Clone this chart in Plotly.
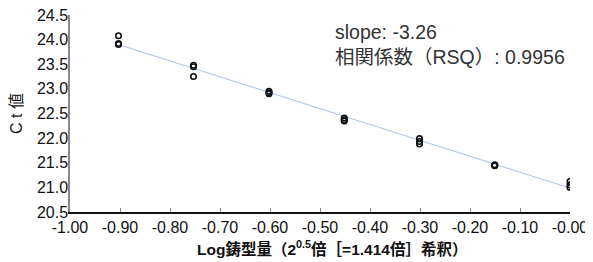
import numpy as np
import plotly.graph_objects as go

# Data
log_template = [-0.903, -0.903, -0.903,
                -0.753, -0.753, -0.753,
                -0.602, -0.602, -0.602,
                -0.4515, -0.4515, -0.4515,
                -0.301, -0.301, -0.301,
                -0.1505, -0.1505, -0.1505,
                0.0, 0.0, 0.0]
ct_values = [24.08, 23.92, 23.90,
             23.48, 23.45, 23.25,
             22.95, 22.92, 22.90,
             22.41, 22.37, 22.35,
             21.99, 21.93, 21.88,
             21.46, 21.45, 21.44,
             21.12, 21.05, 21.00]
x_tick_vals = [-1.0, -0.9, -0.8, -0.7, -0.6, -0.5, -0.4, -0.3, -0.2, -0.1, 0.0]
x_tick_text = ["-1.00", "-0.90", "-0.80", "-0.70", "-0.60", "-0.50", "-0.40",
               "-0.30", "-0.20", "-0.10", "-0.00"]
y_tick_vals = [20.5, 21.0, 21.5, 22.0, 22.5, 23.0, 23.5, 24.0, 24.5]
slope_text = "slope: -3.26"
rsq_text = "相関係数（RSQ）: 0.9956"
x_title = "<b>Log鋳型量（2<sup>0.5</sup>倍［=1.414倍］希釈）</b>"
y_title = "C t 値"

x = np.array(log_template)
y = np.array(ct_values)
m, b = np.polyfit(x, y, 1)
fit_x = [min(log_template), max(log_template)]
fit_y = [m * v + b for v in fit_x]

font_fam = "Liberation Sans, Arial, Noto Sans CJK JP, sans-serif"

fig = go.Figure()
fig.add_trace(go.Scatter(x=fit_x, y=fit_y, mode="lines",
                         line=dict(color="#a9c3e6", width=1), showlegend=False))
fig.add_trace(go.Scatter(x=log_template, y=ct_values, mode="markers",
                         marker=dict(symbol="circle-open", size=5.5, color="#111111",
                                     line=dict(width=1.6, color="#111111")),
                         showlegend=False))

fig.add_annotation(x=0.526, y=0.98, xref="paper", yref="paper", showarrow=False,
                   text=slope_text + "<br>" + rsq_text, align="left",
                   xanchor="left", yanchor="top",
                   font=dict(family=font_fam, size=19.5, color="#333333"))

# x-axis title as an annotation for exact placement
fig.add_annotation(x=0.524, y=-0.183, xref="paper", yref="paper", showarrow=False,
                   text=x_title, xanchor="center", yanchor="middle",
                   font=dict(family=font_fam, size=15.5, color="#111111"))

# the page body adds an 8px offset, margins compensate for it
fig.update_layout(
    width=593, height=262,
    margin=dict(l=62, r=31, t=7, b=58),
    paper_bgcolor="white", plot_bgcolor="white",
    font=dict(family=font_fam, size=16, color="#111111"),
    xaxis=dict(range=[-1.0, 0.0], tickvals=x_tick_vals, ticktext=x_tick_text,
               showgrid=False, zeroline=False, showline=True, automargin=False,
               linecolor="#111111", linewidth=1.5,
               ticks="inside", ticklen=4, tickcolor="#888888", tickwidth=1,
               tickfont=dict(size=16), ticklabeloverflow="allow"),
    yaxis=dict(range=[20.5, 24.5], tickvals=y_tick_vals, tickformat=".1f",
               showgrid=False, zeroline=False, showline=True, automargin=False,
               linecolor="#888888", linewidth=1.5, ticks="",
               tickfont=dict(size=16), ticklabeloverflow="allow",
               ticklabelstandoff=-3,
               title=dict(text=y_title, font=dict(size=16), standoff=16)),
)

fig.write_html("out.html")
